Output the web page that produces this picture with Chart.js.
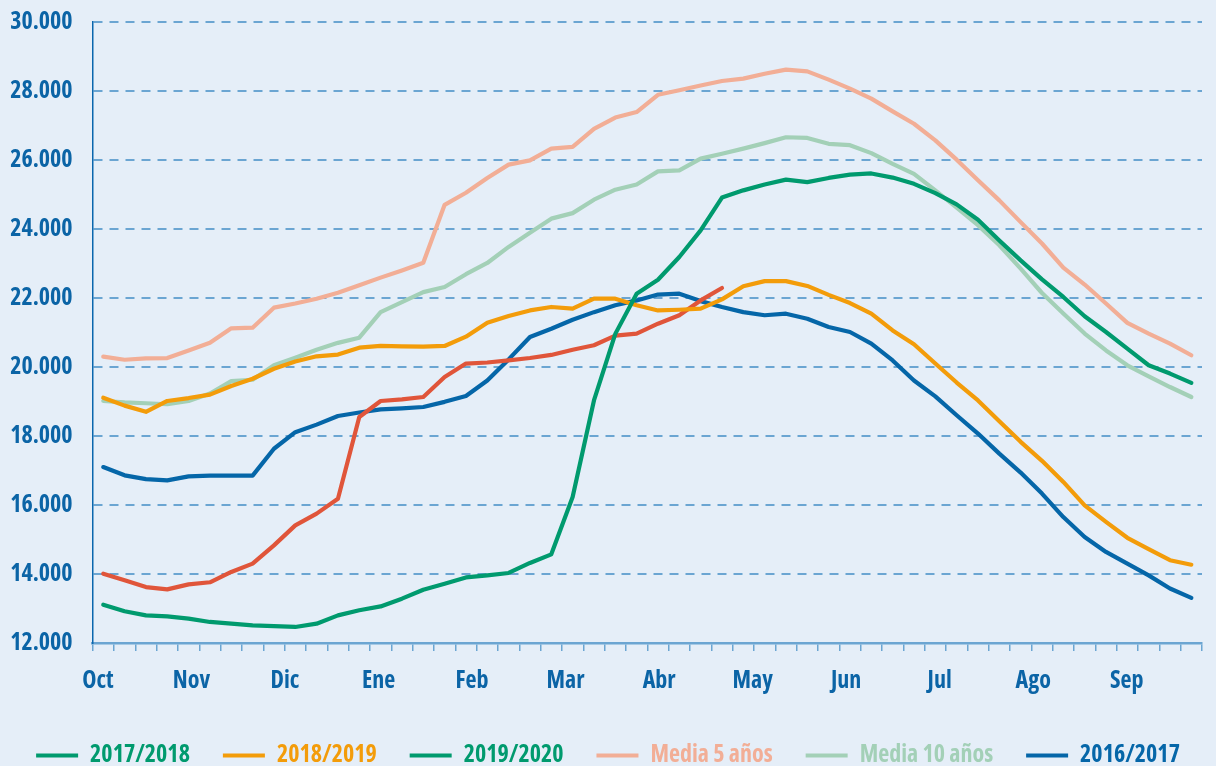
<!DOCTYPE html>
<html><head><meta charset="utf-8">
<script src="https://cdn.jsdelivr.net/npm/chart.js@4.4.1/dist/chart.umd.min.js"></script>
<style>html,body{margin:0;padding:0;background:#e5eef8;} canvas{display:block}</style>
</head><body><canvas id="c" width="1216" height="766"></canvas>
<script>
const weeks = Array.from({length: 52}, (_, i) => 'S' + (i + 1));
const months = ['Oct','Nov','Dic','Ene','Feb','Mar','Abr','May','Jun','Jul','Ago','Sep'];
const yTicks = [12000,14000,16000,18000,20000,22000,24000,26000,28000,30000];

const s2017_2018 = [13110,12920,12800,12770,12705,12610,12560,12510,12490,12465,12560,12800,12950,13060,13285,13545,13720,13900,13960,14030,14320,14570,16230,19030,20960,22125,22530,23190,23960,24910,25120,25290,25430,25360,25480,25575,25610,25490,25310,25040,24715,24270,23670,23090,22540,22030,21470,21015,20530,20050,19810,19540];
const s2018_2019 = [19110,18880,18700,19015,19100,19200,19450,19660,19950,20160,20310,20360,20560,20610,20600,20590,20610,20880,21285,21480,21640,21740,21690,21980,21980,21790,21640,21660,21690,21960,22340,22490,22490,22350,22090,21855,21545,21060,20660,20100,19550,19030,18430,17830,17280,16670,15990,15510,15050,14720,14400,14270];
const s2019_2020 = [14010,13820,13620,13555,13700,13760,14060,14300,14830,15410,15750,16180,18550,19015,19060,19130,19710,20100,20130,20190,20260,20350,20500,20630,20910,20970,21255,21500,21930,22290];
const media5 = [20300,20210,20250,20260,20480,20700,21120,21140,21720,21840,21980,22150,22370,22590,22800,23020,24700,25050,25480,25865,25990,26330,26380,26900,27230,27390,27890,28020,28160,28290,28360,28500,28620,28570,28330,28070,27780,27410,27050,26570,26010,25410,24830,24200,23580,22880,22390,21840,21280,20970,20680,20340];
const media10 = [19015,18975,18950,18920,19015,19230,19590,19630,20050,20270,20500,20700,20850,21590,21880,22170,22320,22690,23015,23480,23890,24300,24460,24850,25140,25290,25670,25700,26040,26180,26330,26490,26660,26640,26470,26430,26200,25890,25600,25120,24620,24110,23530,22850,22145,21550,20970,20480,20050,19730,19420,19130];
const s2016_2017 = [17100,16860,16750,16715,16830,16850,16850,16850,17630,18110,18330,18580,18680,18770,18800,18840,18990,19160,19610,20220,20870,21110,21370,21590,21790,21930,22100,22125,21910,21740,21590,21500,21545,21400,21160,21015,20680,20190,19610,19150,18600,18070,17490,16940,16330,15650,15070,14640,14300,13960,13580,13310];

const FONT = "'Open Sans', 'Roboto Condensed', sans-serif";
const WEIGHT = 'bold condensed';
const TXT = '#0b64a6';
const GRID = '#6ba5d2';
const GREEN = '#009a6e', ORANGE = '#f39c0a', RED = '#e0553a', PINK = '#f2ae96', LGREEN = '#a3d0b7', BLUE = '#0566a8';

function ds(label, data, color, extra) {
  return Object.assign({label, data, borderColor: color, backgroundColor: color, borderWidth: 4.2,
    pointRadius: 0, pointHoverRadius: 0, tension: 0, fill: false, borderJoinStyle: 'round', borderCapStyle: 'round'}, extra || {});
}

const fmt = v => String(v).replace(/\B(?=(\d{3})+(?!\d))/g, '.');

new Chart(document.getElementById('c'), {
  type: 'line',
  data: {
    labels: weeks,
    datasets: [
      ds('2017/2018', s2017_2018, GREEN),
      ds('2018/2019', s2018_2019, ORANGE),
      ds('2019/2020', s2019_2020, RED, {legendColor: GREEN}),
      ds('Media 5 años', media5, PINK),
      ds('Media 10 años', media10, LGREEN),
      ds('2016/2017', s2016_2017, BLUE)
    ]
  },
  options: {
    responsive: false,
    animation: false,
    devicePixelRatio: 1,
    layout: {padding: {left: 0, right: 0, top: 22, bottom: 0}},
    plugins: {
      tooltip: {enabled: false},
      legend: {
        position: 'bottom',
        maxHeight: 55.5,
        labels: {
          boxWidth: 42, boxHeight: 4, padding: 33,
          font: {family: FONT, size: 24, weight: WEIGHT},
          generateLabels(chart) {
            const items = Chart.defaults.plugins.legend.labels.generateLabels(chart);
            items.forEach(it => {
              const d = chart.data.datasets[it.datasetIndex];
              const c = d.legendColor || d.borderColor;
              it.fillStyle = c; it.strokeStyle = c; it.lineWidth = 0; it.fontColor = c;
            });
            return items;
          }
        }
      }
    },
    scales: {
      x: {
        type: 'category',
        offset: true,
        grid: {display: true, offset: true, drawOnChartArea: false, drawTicks: true, tickLength: 8, color: GRID, lineWidth: 1.5},
        border: {display: true, color: GRID, width: 2.5},
        ticks: {display: false},
        afterFit(s) { s.height = 10; s.paddingRight = 14; }
      },
      xm: {
        type: 'linear', position: 'bottom', min: 0, max: 52,
        grid: {display: false, drawTicks: false},
        border: {display: false},
        afterBuildTicks(s) { s.ticks = months.map((m, k) => ({value: 0.25 + k * 4.384})); },
        ticks: {
          autoSkip: false, maxRotation: 0, padding: 14, color: TXT,
          font: {family: FONT, size: 24, weight: WEIGHT},
          callback: (v, i) => months[i]
        },
        afterFit(s) { s.height = 57.5; s.paddingRight = 14; }
      },
      y: {
        min: 12000, max: 30000,
        afterBuildTicks(s) { s.ticks = yTicks.map(v => ({value: v})); },
        grid: {color: GRID, lineWidth: 2, drawTicks: false},
        border: {display: true, color: '#0a66ad', width: 1.5, dash: [9, 7]},
        ticks: {color: TXT, padding: 20, font: {family: FONT, size: 24, weight: WEIGHT}, callback: v => fmt(v)},
        afterFit(s) { s.width = 92.6; s.paddingTop = 0; s.paddingBottom = 0; }
      }
    }
  }
});
</script></body></html>
